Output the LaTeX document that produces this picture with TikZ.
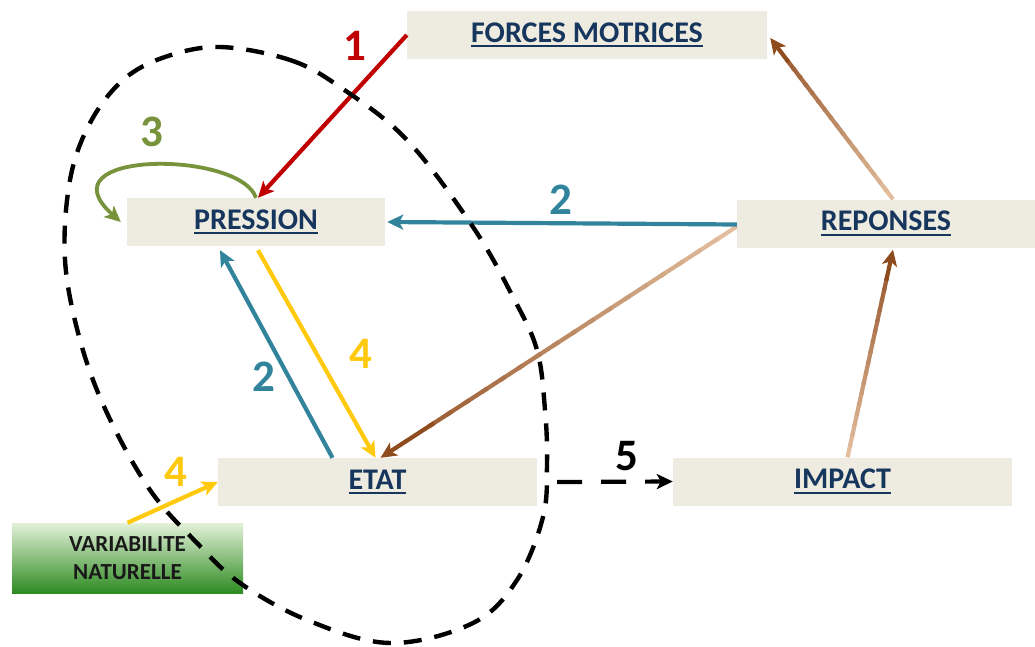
\documentclass[tikz,border=0pt]{standalone}
\usepackage{fontspec}
\setmainfont{Carlito}
\newcommand{\ulab}[1]{\setbox0=\hbox{#1}\vtop{\copy0\kern2.5pt\hrule height 2pt width \wd0}}
\usetikzlibrary{arrows.meta,calc}
\definecolor{boxgray}{HTML}{EEECE1}
\definecolor{labelblue}{HTML}{17365D}
\definecolor{redarrow}{HTML}{C00000}
\definecolor{loopgreen}{HTML}{77933C}
\definecolor{tealarrow}{HTML}{31849B}
\definecolor{goldarrow}{HTML}{FFC90E}
\definecolor{brlight}{HTML}{E2BE9E}
\definecolor{brdark}{HTML}{8E4B1E}
\definecolor{vartop}{HTML}{E3F1D8}
\definecolor{varbot}{HTML}{2E8B22}
\begin{document}
\begin{tikzpicture}[x=1pt,y=-1pt,
  box/.style={fill=boxgray,minimum height=48pt,inner sep=0pt,text=labelblue,font=\fontsize{30}{32}\selectfont\bfseries},
  flow/.style={line width=4.2pt,-{Stealth[length=16pt,width=15pt,inset=4pt]}},
  num/.style={font=\fontsize{45}{45}\selectfont\bfseries}]
  \useasboundingbox (0,0) rectangle (1035,647);

  \node[box,minimum width=360pt] (forces) at (587,35) {\ulab{FORCES MOTRICES}};
  \node[box,minimum width=258pt] (pres) at (256,222) {\ulab{PRESSION}};
  \node[box,minimum width=298pt] (rep) at (886,223.5) {\ulab{REPONSES}};
  \node[box,minimum width=319pt] (etat) at (377.5,482) {\ulab{ETAT}};
  \node[box,minimum width=339pt] (imp) at (842.5,481.5) {\ulab{IMPACT}};
  \node[minimum width=231pt,minimum height=70pt,inner sep=0pt,top color=vartop,bottom color=varbot,
    align=center,text=black!90,font=\fontsize{23}{28}\selectfont\bfseries] (var) at (127.5,558) {VARIABILITE\\NATURELLE};

  % brown arrows, light to dark
  \coordinate (rf0) at ([xshift=7]rep.north);
  \coordinate (rf1) at ([xshift=3,yshift=-3]forces.east);
  \coordinate (ir0) at ([xshift=5]imp.north);
  \coordinate (ir1) at ([xshift=7,yshift=-2]rep.south);
  \coordinate (re0) at ([yshift=-3]rep.west);
  \coordinate (re1) at ([xshift=3]etat.north);
  \foreach \a/\b in {rf0/rf1,ir0/ir1,re0/re1}{
    \foreach \i in {0,...,16}{
      \pgfmathtruncatemacro\p{100-5*\i}
      \draw[line width=4.2pt,brlight!\p!brdark] ($(\a)!\i/20!(\b)$) -- ($(\a)!{(\i+1.3)/20}!(\b)$);
    }
    \draw[flow,brdark] ($(\a)!0.85!(\b)$) -- (\b);
  }

  \draw[flow,redarrow] (forces.west) -- ([xshift=2]pres.north);
  \draw[flow,tealarrow] ([yshift=-1]rep.west) -- ([xshift=2]pres.east);
  \draw[flow,tealarrow] ([xshift=-45]etat.north) -- ([xshift=-36,yshift=-4]pres.south);
  \draw[flow,goldarrow] ([xshift=2,yshift=-4]pres.south) -- ([xshift=-2]etat.north);
  \draw[flow,goldarrow] (var.north) -- (etat.west);
  \draw[flow,loopgreen,line width=3.8pt] (pres.north) .. controls (240,150) and (40,150) .. ([xshift=-6]pres.west);
  \draw[flow,black,dash pattern=on 25pt off 19pt] ([xshift=20]etat.east) -- (imp.west);

  \node[num,text=redarrow] (n1) at (355,46) {1};
  \node[num,text=loopgreen] (n3) at (152,132) {3};
  \node[num,text=tealarrow] (n2a) at (561,200) {2};
  \node[num,text=tealarrow] (n2b) at (264,377) {2};
  \node[num,text=goldarrow] (n4a) at (361,354) {4};
  \node[num,text=goldarrow] (n4b) at (176,472) {4};
  \node[num,text=black] (n5) at (627,456) {5};

  % dashed outline round PRESSION and ETAT
  \draw[line width=4.4pt,dash pattern=on 18pt off 13pt] plot[smooth cycle,tension=0.6] coordinates {
    (220,47) (290,60) (340,87) (407,140) (473,227) (513,297) (537,350) (545,410)
    (547,463) (543,517) (517,580) (473,623) (390,643) (307,620) (240,583) (197,543)
    (150,490) (107,413) (80,340) (65,260) (70,180) (90,123) (123,80) (165,57)};
\end{tikzpicture}
\end{document}
